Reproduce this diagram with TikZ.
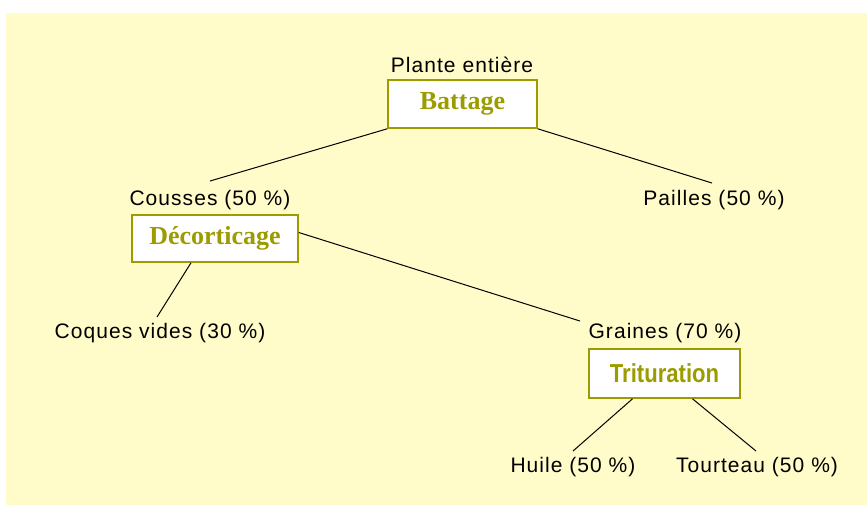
\documentclass[tikz,border=0pt]{standalone}
\usepackage{fontspec}
\setmainfont{Liberation Sans}
\newfontfamily\lblfont[LetterSpace=5]{Liberation Sans}
\newfontfamily\stepserif{Liberation Serif}
\newfontfamily\stepsans[FakeStretch=0.85]{Liberation Sans}
\definecolor{paper}{HTML}{FFFCCA}
\definecolor{olive}{HTML}{9C9C00}
\tikzset{
  lbl/.style={inner sep=0pt, font=\lblfont\fontsize{21}{24}\selectfont, text=black},
  stepbox/.style={draw=olive, line width=1.6pt, fill=white, inner sep=0pt,
    text=olive, font=\bfseries\fontsize{25}{28}\selectfont},
  link/.style={draw=black, line width=1pt}
}
\begin{document}
\begin{tikzpicture}[x=1pt,y=-1pt]
  \useasboundingbox (0,0) rectangle (867,504);
  \fill[paper] (6,13) rectangle (875,512);

  % process steps
  \node[stepbox, minimum width=149pt, minimum height=48pt, font=\stepserif\bfseries\fontsize{26}{28}\selectfont]
    (battage) at (462.5,104) {Battage};
  \node[stepbox, minimum width=166pt, minimum height=47pt, font=\stepserif\bfseries\fontsize{26}{28}\selectfont]
    (decort) at (215,238.5) {Décorticage};
  \node[stepbox, minimum width=151pt, minimum height=49pt, font=\stepsans\bfseries\fontsize{26}{28}\selectfont]
    (trit) at (664.5,373.5) {Trituration};

  % products
  \node[lbl] (plante) at (462,65) {Plante entière};
  \node[lbl] (cousses) at (210,200) {Cousses (50 \%)};
  \node[lbl] (pailles) at (714,200) {Pailles (50 \%)};
  \node[lbl] (coques) at (160,333) {Coques vides (30 \%)};
  \node[lbl] (graines) at (665,333) {Graines (70 \%)};
  \node[lbl] (huile) at (573,467) {Huile (50 \%)};
  \node[lbl] (tourteau) at (757,467) {Tourteau (50 \%)};

  % connectors
  \draw[link] (battage.south west) -- ([yshift=9pt]cousses.north);
  \draw[link] (battage.south east) -- ([xshift=-2pt,yshift=7pt]pailles.north);
  \draw[link] ([xshift=-24pt]decort.south) -- ([xshift=-3pt,yshift=6pt]coques.north);
  \draw[link] ([yshift=6pt]decort.east) -- ([xshift=-85pt,yshift=2pt]graines.north);
  \draw[link] ([xshift=-32pt]trit.south) -- ([yshift=6pt]huile.north);
  \draw[link] ([xshift=28pt]trit.south) -- ([xshift=-1pt,yshift=6pt]tourteau.north);
\end{tikzpicture}
\end{document}
